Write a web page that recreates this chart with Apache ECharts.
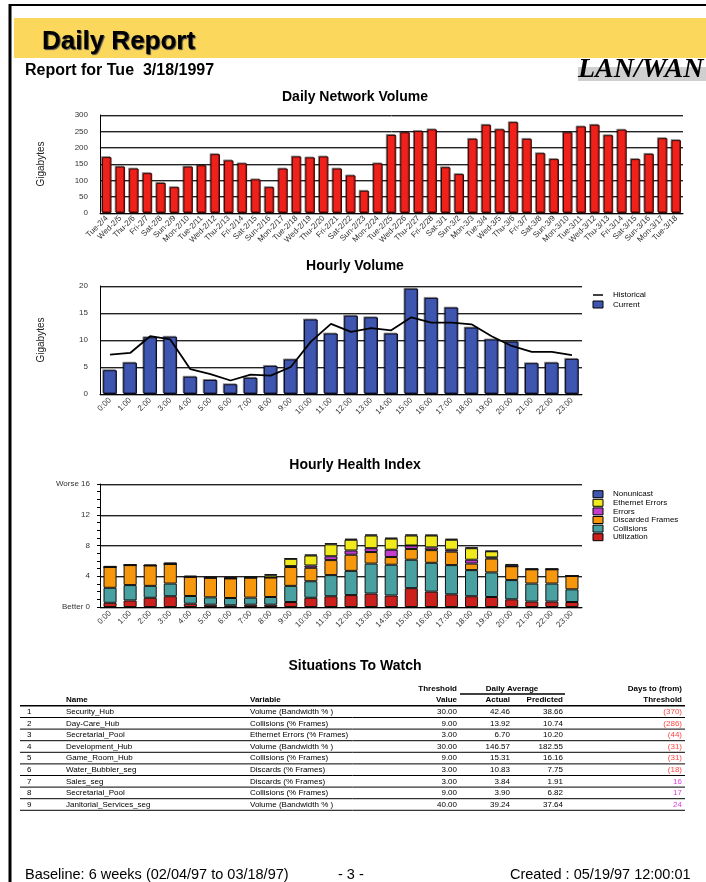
<!DOCTYPE html>
<html><head><meta charset="utf-8">
<script src="https://cdn.jsdelivr.net/npm/echarts@6/dist/echarts.min.js"></script>
<style>html,body{margin:0;padding:0;background:#fff;overflow:hidden}#c{width:706px;height:882px}</style>
</head><body><div id="c"></div>
<script>
// ---------- DATA ----------
const dayLabels = ['Tue-2/4','Wed-2/5','Thu-2/6','Fri-2/7','Sat-2/8','Sun-2/9','Mon-2/10','Tue-2/11','Wed-2/12','Thu-2/13','Fri-2/14','Sat-2/15','Sun-2/16','Mon-2/17','Tue-2/18','Wed-2/19','Thu-2/20','Fri-2/21','Sat-2/22','Sun-2/23','Mon-2/24','Tue-2/25','Wed-2/26','Thu-2/27','Fri-2/28','Sat-3/1','Sun-3/2','Mon-3/3','Tue-3/4','Wed-3/5','Thu-3/6','Fri-3/7','Sat-3/8','Sun-3/9','Mon-3/10','Tue-3/11','Wed-3/12','Thu-3/13','Fri-3/14','Sat-3/15','Sun-3/16','Mon-3/17','Tue-3/18'];
const dailyVolume = [171,142,136,122,92,79,142,146,180,161,152,103,79,136,173,170,173,136,115,68,152,239,247,251,256,140,119,227,270,256,278,227,183,165,247,265,270,238,255,165,181,229,223];

const hours = ['0:00','1:00','2:00','3:00','4:00','5:00','6:00','7:00','8:00','9:00','10:00','11:00','12:00','13:00','14:00','15:00','16:00','17:00','18:00','19:00','20:00','21:00','22:00','23:00'];
const hourlyCurrent = [4.4,5.8,10.5,10.6,3.2,2.6,1.8,3.0,5.2,6.4,13.8,11.2,14.5,14.2,11.2,19.5,17.8,16.0,12.3,10.1,9.7,5.7,5.8,6.5];
const hourlyHistorical = [7.3,7.6,10.7,10.1,4.6,3.7,2.5,3.6,3.4,5.0,9.7,13.0,11.5,12.2,11.8,14.2,13.2,13.2,12.9,10.7,8.9,7.8,7.8,7.2];

const healthUtilization = [0.55,0.85,1.2,1.4,0.43,0.3,0.22,0.3,0.3,0.65,1.2,1.4,1.55,1.75,1.5,2.45,2.0,1.65,1.4,1.3,1.0,0.7,0.7,0.65];
const healthCollisions  = [1.95,2.0,1.55,1.65,1.0,0.96,0.95,0.92,1.0,2.1,2.15,2.75,3.15,3.9,4.0,3.7,3.75,3.8,3.4,3.2,2.5,2.35,2.35,1.65];
const healthDiscarded   = [2.7,2.6,2.65,2.55,2.5,2.55,2.55,2.6,2.53,2.45,1.75,1.95,2.1,1.5,1.0,1.4,1.65,1.75,0.85,1.8,1.8,1.85,1.85,1.75];
const healthErrors      = [0,0,0,0,0,0,0,0,0,0.12,0.3,0.5,0.55,0.5,0.95,0.45,0.35,0.25,0.5,0.15,0,0,0,0];
const healthEthernet    = [0,0,0,0,0,0,0,0,0.3,0.95,1.3,1.55,1.4,1.65,1.45,1.3,1.55,1.3,1.5,0.8,0,0,0,0];
const healthNonunicast  = [0.15,0.12,0.12,0.2,0.15,0.12,0.2,0.15,0.15,0.05,0.12,0.15,0.12,0.13,0.1,0.13,0.1,0.12,0.1,0.05,0.3,0.1,0.1,0.08];

const tableIdx       = ['1','2','3','4','5','6','7','8','9'];
const tableNames     = ['Security_Hub','Day-Care_Hub','Secretarial_Pool','Development_Hub','Game_Room_Hub','Water_Bubbler_seg','Sales_seg','Secretarial_Pool','Janitorial_Services_seg'];
const tableVars      = ['Volume (Bandwidth % )','Collisions (% Frames)','Ethernet Errors (% Frames)','Volume (Bandwidth % )','Collisions (% Frames)','Discards (% Frames)','Discards (% Frames)','Collisions (% Frames)','Volume (Bandwidth % )'];
const tableThreshold = ['30.00','9.00','3.00','30.00','9.00','3.00','3.00','9.00','40.00'];
const tableActual    = ['42.46','13.92','6.70','146.57','15.31','10.83','3.84','3.90','39.24'];
const tablePredicted = ['38.66','10.74','10.20','182.55','16.16','7.75','1.91','6.82','37.64'];
const tableDays      = ['(370)','(286)','(44)','(31)','(31)','(18)','16','17','24'];

// ---------- STYLE ----------
const FONT = '"Liberation Sans", Arial, Helvetica, sans-serif';
const gridLine = {lineStyle:{color:'#222', width:1, shadowColor:'#aaa', shadowOffsetY:1}};
const axLine = {show:true, lineStyle:{color:'#000', width:1}};
const axLbl = {fontSize:8, color:'#333', fontFamily:FONT};

const chart = echarts.init(document.getElementById('c'), null, {renderer:'canvas'});

const g = [];
function txt(x,y,text,opts){
  g.push({type:'text', x:x, y:y, silent:true, z:100, style:Object.assign({text:text, fill:'#000', fontFamily:FONT, fontSize:8.5, textAlign:'left', textVerticalAlign:'middle'}, opts||{})});
}
function line(x1,y1,x2,y2,w,c){
  g.push({type:'line', silent:true, z:100, shape:{x1:x1,y1:y1,x2:x2,y2:y2}, style:{stroke:c||'#000', lineWidth:w||1}});
}
function rect(x,y,w,h,fill,stroke){
  g.push({type:'rect', silent:true, z:100, shape:{x:x,y:y,width:w,height:h}, style:{fill:fill, stroke:stroke||null, lineWidth:stroke?1:0}});
}

// page frame
line(10,5,706,5,2);
line(10,4,10,882,3);
// banner
g.push({type:'rect', silent:true, z:90, shape:{x:14,y:18,width:692,height:40}, style:{fill:'#fbd85c'}});
txt(42,42,'Daily Report',{fontSize:26, fontWeight:'bold', textShadowColor:'#444', textShadowOffsetX:1, textShadowOffsetY:1, textShadowBlur:1});
txt(25,71,'Report for Tue\u00a0 3/18/1997',{fontSize:16, fontWeight:'bold'});
rect(578,67,128,14,'#cfcfcf');
txt(578,70,'LAN/WAN',{fontSize:28, fontWeight:'bold', fontStyle:'italic', fontFamily:'"Liberation Serif", "Times New Roman", serif'});

// chart titles
txt(355,97,'Daily Network Volume',{fontSize:14, fontWeight:'bold', textAlign:'center'});
txt(355,266,'Hourly Volume',{fontSize:14, fontWeight:'bold', textAlign:'center'});
txt(355,465,'Hourly Health Index',{fontSize:14, fontWeight:'bold', textAlign:'center'});
txt(355,666,'Situations To Watch',{fontSize:14, fontWeight:'bold', textAlign:'center'});

// legend: hourly volume
line(593,295,603,295,1.5);
txt(613,295,'Historical',{fontSize:8});
rect(593,301,10,7,'#3f56b0','#000');
txt(613,304.5,'Current',{fontSize:8});

// legend: health
const healthNames = ['Nonunicast','Ethernet Errors','Errors','Discarded Frames','Collisions','Utilization'];
const healthColors = ['#3f56b0','#f0ea1c','#c43ccc','#f7980c','#48a0a0','#cc201c'];
for (let i=0;i<6;i++){
  rect(593,490.7+i*8.6,10,7,healthColors[i],'#000');
  txt(613,494.2+i*8.6,healthNames[i],{fontSize:8});
}

// table
const rowY0 = 711.7, rowH = 11.6;
txt(457,688.7,'Threshold',{fontWeight:'bold', textAlign:'right', fontSize:8});
txt(512,688.7,'Daily Average',{fontWeight:'bold', textAlign:'center', fontSize:8});
line(460,694,565,694,1.5);
txt(682,688.7,'Days to (from)',{fontWeight:'bold', textAlign:'right', fontSize:8});
txt(66,700,'Name',{fontWeight:'bold', fontSize:8});
txt(250,700,'Variable',{fontWeight:'bold', fontSize:8});
txt(457,700,'Value',{fontWeight:'bold', textAlign:'right', fontSize:8});
txt(510,700,'Actual',{fontWeight:'bold', textAlign:'right', fontSize:8});
txt(563,700,'Predicted',{fontWeight:'bold', textAlign:'right', fontSize:8});
txt(682,700,'Threshold',{fontWeight:'bold', textAlign:'right', fontSize:8});
line(20,705.7,685,705.7,1.5);
for (let i=0;i<tableNames.length;i++){
  const y = rowY0 + i*rowH;
  txt(27,y,tableIdx[i],{fontSize:8});
  txt(66,y,tableNames[i],{fontSize:8});
  txt(250,y,tableVars[i],{fontSize:8});
  txt(457,y,tableThreshold[i],{textAlign:'right', fontSize:8});
  txt(510,y,tableActual[i],{textAlign:'right', fontSize:8});
  txt(563,y,tablePredicted[i],{textAlign:'right', fontSize:8});
  const neg = tableDays[i].charAt(0)==='(';
  txt(682,y,tableDays[i],{textAlign:'right', fontSize:8, fill: neg ? '#ff4545' : '#e040e0'});
  line(20,y+5.8,685,y+5.8,1);
}

// footer
txt(25,875,'Baseline: 6 weeks (02/04/97 to 03/18/97)',{fontSize:14.5});
txt(338,875,'- 3 -',{fontSize:14.5});
txt(510,875,'Created : 05/19/97 12:00:01',{fontSize:14.5});

function stackBar(name,data,color){
  return {type:'bar', name:name, xAxisIndex:2, yAxisIndex:2, stack:'h', data:data, barWidth:'65%',
    itemStyle:{color:color, borderColor:'#111', borderWidth:1}};
}

const option = {
  animation:false,
  backgroundColor:'#fff',
  textStyle:{fontFamily:FONT},
  grid:[
    {left:100, top:115, width:583, height:98},
    {left:100, top:286, width:482, height:108},
    {left:100, top:484, width:482, height:123}
  ],
  xAxis:[
    {gridIndex:0, type:'category', data:dayLabels, axisLine:axLine, axisTick:{show:false},
     axisLabel:Object.assign({rotate:45, interval:0, margin:4}, axLbl)},
    {gridIndex:1, type:'category', data:hours, axisLine:axLine, axisTick:{show:false},
     axisLabel:Object.assign({rotate:45, interval:0, margin:5}, axLbl)},
    {gridIndex:2, type:'category', data:hours, axisLine:axLine, axisTick:{show:false},
     axisLabel:Object.assign({rotate:45, interval:0, margin:5}, axLbl)}
  ],
  yAxis:[
    {gridIndex:0, type:'value', min:0, max:300, interval:50, axisLine:axLine, axisTick:{show:false},
     splitLine:gridLine, axisLabel:Object.assign({margin:12}, axLbl),
     name:'Gigabytes', nameLocation:'middle', nameGap:54, nameRotate:90,
     nameTextStyle:{fontSize:10, color:'#222', fontFamily:FONT}},
    {gridIndex:1, type:'value', min:0, max:20, interval:5, axisLine:axLine, axisTick:{show:false},
     splitLine:gridLine, axisLabel:Object.assign({margin:12}, axLbl),
     name:'Gigabytes', nameLocation:'middle', nameGap:54, nameRotate:90,
     nameTextStyle:{fontSize:10, color:'#222', fontFamily:FONT}},
    {gridIndex:2, type:'value', min:0, max:16, interval:4, axisLine:axLine,
     axisTick:{show:true, length:3, lineStyle:{color:'#000'}},
     minorTick:{show:true, splitNumber:4, length:3, lineStyle:{color:'#000'}},
     splitLine:gridLine,
     axisLabel:Object.assign({margin:10, formatter:function(v){ return v===16?'Worse 16':(v===0?'Better 0':String(v)); }}, axLbl)}
  ],
  series:[
    {type:'bar', name:'Daily', xAxisIndex:0, yAxisIndex:0, data:dailyVolume, barWidth:'70%',
     itemStyle:{color:'#f0201a', borderColor:'#3a0805', borderWidth:1, shadowColor:'rgba(0,0,0,0.35)', shadowOffsetX:-1, shadowOffsetY:-1}},
    {type:'bar', name:'Current', xAxisIndex:1, yAxisIndex:1, data:hourlyCurrent, barWidth:'68%',
     itemStyle:{color:'#3f56b0', borderColor:'#0a0a20', borderWidth:1, shadowColor:'rgba(0,0,0,0.35)', shadowOffsetX:-1, shadowOffsetY:-1}},
    {type:'line', name:'Historical', xAxisIndex:1, yAxisIndex:1, data:hourlyHistorical, symbol:'none',
     lineStyle:{color:'#000', width:1.8}, z:5},
    stackBar('Utilization',healthUtilization,'#cc201c'),
    stackBar('Collisions',healthCollisions,'#48a0a0'),
    stackBar('Discarded Frames',healthDiscarded,'#f7980c'),
    stackBar('Errors',healthErrors,'#c43ccc'),
    stackBar('Ethernet Errors',healthEthernet,'#f0ea1c'),
    stackBar('Nonunicast',healthNonunicast,'#3f56b0')
  ],
  graphic:g
};
chart.setOption(option);
</script></body></html>
